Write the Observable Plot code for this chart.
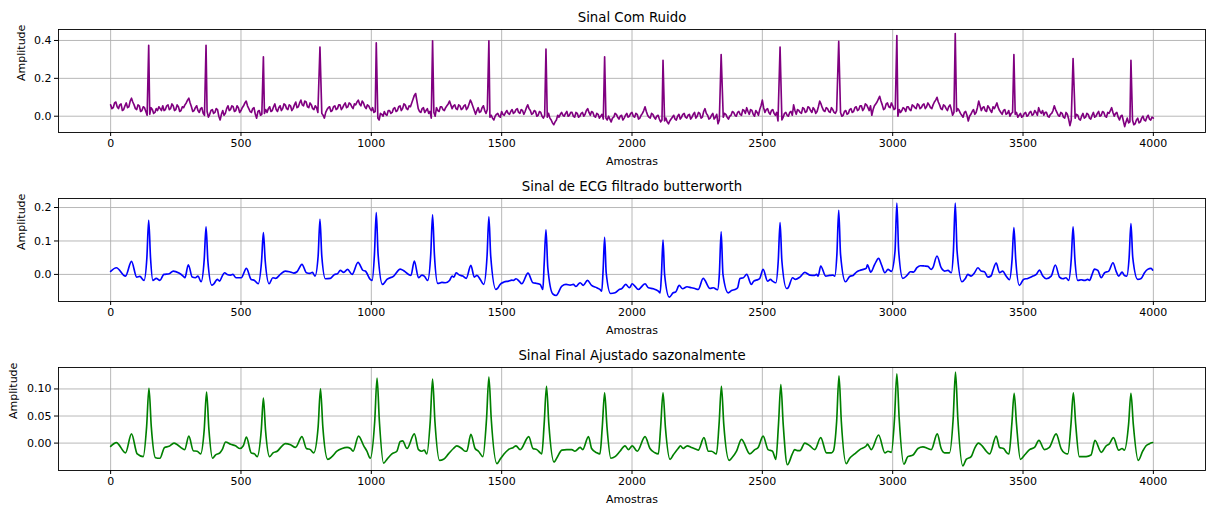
<!DOCTYPE html>
<html><head><meta charset="utf-8">
<script src="https://cdn.jsdelivr.net/npm/d3@7"></script>
<script src="https://cdn.jsdelivr.net/npm/@observablehq/plot@0.6"></script>
<style>
body{margin:0;background:#fff;}
#wrap{position:relative;width:1208px;height:507px;font-family:"DejaVu Sans",sans-serif;}
#wrap svg{position:absolute;left:0;}
</style></head><body><div id="wrap"></div>
<script>
// ---- Data (amplitudes in thousandths) ----
const noisyStep = 10; // samples between readings (even readings at 0,10,20..., odd readings at 5,15,25...)
const noisyEven = [
60,45,75,40,65,35,70,50,95,60,
35,55,30,45,5,10,35,20,30,40,
55,35,60,40,55,35,50,30,45,70,
95,50,30,55,20,45,5,25,10,35,
20,35,-20,30,15,55,35,50,30,45,
30,55,80,40,20,45,-10,30,10,15,
20,50,30,65,25,55,40,60,35,55,
40,75,50,85,55,75,45,60,35,45,
30,15,-10,35,50,30,55,40,60,45,
70,50,65,40,60,85,55,70,40,55,
30,20,0,-20,10,25,5,30,20,45,
30,55,40,60,35,50,90,120,40,20,
45,30,15,-10,20,45,25,50,30,55,
80,40,60,35,55,40,60,45,85,50,
10,45,25,55,15,20,5,-20,10,0,
25,5,30,10,35,20,40,15,30,25,
60,30,15,25,5,20,-10,0,15,-20,
-45,-20,-5,20,0,25,5,20,-5,15,
0,20,10,40,5,20,-5,10,0,-15,
-10,0,-30,-5,10,-15,5,-10,15,0,
20,-5,10,-10,15,50,5,-10,10,-15,
5,-30,0,-10,-40,-15,5,-20,10,-5,
15,-10,10,-5,20,0,15,-5,40,5,
-10,15,-5,-40,0,-5,10,-15,5,20,
0,25,5,30,45,10,30,0,20,35,
85,20,40,10,35,5,-25,0,-5,20,
0,25,60,10,30,15,40,25,45,20,
35,25,80,45,25,40,20,35,15,0,
20,5,30,15,40,25,50,35,55,40,
60,30,5,55,75,105,60,40,70,45,
55,40,0,20,45,25,50,30,55,40,
60,45,65,50,60,40,75,100,60,35,
55,30,60,5,0,40,15,-5,25,-25,
10,35,20,80,30,50,25,45,20,40,
70,30,10,35,15,0,20,10,-5,15,
0,20,5,25,10,20,45,15,5,20,
-5,15,55,20,0,15,-10,10,-50,0,
-10,5,-20,15,-5,10,-15,20,0,25,
5,20,-5,15,45,0,20,-20,5,-55,
-10,-30,-20,-40,-10,-30,0,-25,5,-20,
-10
];
const noisyOdd = [
40,70,50,60,30,55,45,80,75,40,
60,25,50,25,20,45,15,40,50,30,
30,55,35,65,30,60,25,50,60,85,
70,25,45,30,40,15,10,-5,30,15,
40,0,10,5,40,30,55,25,55,20,
45,70,55,25,40,10,25,5,5,35,
40,25,50,35,45,30,65,40,60,30,
60,45,70,60,80,50,70,40,55,20,
10,5,20,45,25,50,35,60,35,60,
45,70,50,65,75,65,80,50,60,40,
45,25,-10,15,0,10,30,15,40,25,
50,30,65,40,55,70,110,80,25,40,
20,40,25,5,0,30,50,35,45,65,
60,55,40,60,35,55,35,65,70,30,
30,20,45,30,35,-5,-10,0,15,-5,
10,20,15,25,15,35,20,35,10,45,
40,10,30,0,25,0,5,-5,-10,-35,
-30,5,10,5,15,0,20,0,20,-5,
15,0,30,20,25,0,15,-10,10,-5,
-20,-15,-10,15,-5,0,-20,5,-5,15,
0,15,-15,5,30,25,-5,15,-5,0,
-15,-20,-25,-30,-25,-5,-15,0,-15,10,
-5,5,-15,10,-10,20,-10,25,15,-15,
5,-15,10,-20,0,15,-5,0,25,5,
20,10,35,15,25,35,10,30,5,55,
45,35,20,30,15,20,-5,-20,15,5,
20,5,30,35,20,45,20,50,30,45,
15,50,65,30,45,25,45,20,30,0,
0,25,10,35,20,45,30,55,30,65,
45,55,35,65,90,80,35,65,50,70,
35,0,35,30,40,50,35,60,45,65,
40,60,40,70,45,60,85,75,40,60,
40,50,35,20,25,30,5,20,5,0,
25,10,45,55,45,30,55,30,50,55,
45,20,30,10,30,15,0,20,5,-5,
15,0,20,5,30,5,25,30,20,0,
10,30,35,5,20,-5,20,-15,-20,0,
10,-15,0,-10,15,-10,5,-5,15,0,
25,0,20,30,20,15,-5,0,-25,-30,
-35,0,-45,-20,-35,-10,-20,-5,-15,-5
];
const rawPeakX = [146,366,586,803,1019,1235,1451,1670,1895,2119,2342,2568,2793,3016,3240,3465,3692,3914];
const rawPeakY = [375,375,314,365,387,398,398,354,314,295,326,365,395,426,437,326,305,295];

const butterworth = [
[0,9],[22,20],[57,-5],[80,39],[100,-8],[112,-6],[128,-18],[139,50],[146,162],[153,50],[162,-18],[175,-12],[189,-18],[204,0],[225,2],[240,10],[262,4],[278,-5],[285,-10],[298,29],[313,-8],[325,-10],[335,-5],[347,-22],[359,45],[366,142],[373,40],[388,-32],[396,-28],[409,-15],[418,-20],[428,-5],[437,5],[447,0],[460,-2],[469,0],[481,-10],[501,-10],[521,18],[539,-15],[552,-18],[566,-28],[579,40],[586,125],[593,40],[608,-28],[622,-10],[633,-12],[651,0],[670,10],[686,8],[702,4],[715,8],[734,30],[751,5],[764,3],[774,6],[784,-5],[796,55],[803,165],[810,55],[824,-13],[843,-12],[859,0],[870,2],[881,12],[894,6],[909,15],[926,0],[949,36],[968,12],[977,10],[996,-15],[1003,-18],[1012,60],[1019,185],[1026,60],[1043,-30],[1060,-15],[1086,-5],[1111,16],[1126,10],[1143,0],[1152,-3],[1165,40],[1181,-10],[1194,-2],[1203,-5],[1216,-18],[1228,60],[1235,178],[1242,60],[1255,-27],[1271,-24],[1284,-25],[1300,-18],[1310,-5],[1317,-8],[1325,5],[1338,-2],[1351,-5],[1364,-12],[1382,27],[1395,-8],[1405,-3],[1418,-15],[1431,-30],[1444,55],[1451,172],[1458,55],[1478,-45],[1484,-42],[1494,-30],[1509,-23],[1526,-20],[1539,-17],[1545,-18],[1555,-13],[1567,-20],[1577,-28],[1601,4],[1620,-25],[1635,-27],[1648,-30],[1658,-45],[1663,30],[1670,133],[1677,20],[1696,-58],[1709,-63],[1731,-35],[1747,-30],[1763,-32],[1775,-30],[1785,-36],[1801,-25],[1813,-33],[1829,-18],[1845,-33],[1865,-40],[1877,-45],[1884,-50],[1889,10],[1895,111],[1901,5],[1918,-57],[1935,-55],[1951,-45],[1960,-43],[1976,-30],[1990,-40],[2001,-28],[2011,-35],[2024,-45],[2050,-28],[2063,-40],[2082,-43],[2101,-50],[2108,-55],[2113,0],[2119,103],[2125,0],[2143,-68],[2158,-55],[2168,-52],[2181,-33],[2194,-43],[2211,-37],[2228,-40],[2241,-42],[2254,-45],[2273,-12],[2299,-42],[2312,-40],[2328,-46],[2335,0],[2342,127],[2349,0],[2369,-55],[2382,-48],[2395,-45],[2405,-40],[2414,-12],[2427,-10],[2440,0],[2458,-30],[2467,-20],[2484,-15],[2490,-12],[2503,15],[2520,-20],[2531,-15],[2539,-20],[2552,-25],[2561,40],[2568,155],[2575,40],[2593,-42],[2599,-40],[2616,-10],[2627,-15],[2644,-8],[2663,6],[2682,-2],[2701,-3],[2708,0],[2714,-5],[2724,25],[2743,-5],[2758,-3],[2771,-2],[2778,-5],[2786,60],[2793,192],[2800,60],[2819,-22],[2835,-6],[2848,-3],[2861,7],[2874,12],[2887,15],[2899,19],[2903,29],[2916,7],[2931,30],[2946,48],[2957,29],[2970,5],[2982,15],[2995,9],[3009,70],[3016,213],[3023,70],[3039,-12],[3055,-3],[3068,8],[3080,7],[3093,20],[3106,26],[3122,25],[3135,24],[3148,15],[3154,20],[3170,55],[3186,20],[3199,10],[3212,12],[3225,5],[3233,70],[3240,213],[3247,70],[3266,-22],[3279,-12],[3288,0],[3301,-5],[3314,5],[3327,20],[3339,10],[3352,8],[3365,-8],[3378,-4],[3384,10],[3397,34],[3410,5],[3422,10],[3435,-5],[3448,-16],[3458,45],[3465,140],[3472,45],[3486,-33],[3502,-15],[3518,-12],[3538,-5],[3551,0],[3563,13],[3576,-5],[3589,-13],[3608,-5],[3624,28],[3640,-8],[3653,-13],[3665,-10],[3675,-18],[3685,45],[3692,142],[3699,45],[3710,-18],[3723,-16],[3736,-18],[3748,-15],[3755,-18],[3765,0],[3774,16],[3787,12],[3800,-10],[3813,5],[3829,10],[3845,35],[3857,10],[3867,-5],[3880,7],[3889,-3],[3898,-5],[3907,50],[3914,152],[3921,50],[3940,-15],[3953,-12],[3966,5],[3978,15],[3991,18],[3997,13]
];

const adjusted = [
[0,-6],[22,1],[57,-18],[80,17],[102,-20],[125,-25],[138,30],[147,101],[156,30],[172,-27],[189,-28],[207,-8],[224,-6],[243,0],[256,-3],[275,-10],[284,-12],[300,13],[317,-14],[332,-15],[345,-20],[359,25],[368,94],[377,25],[391,-28],[402,-22],[419,-18],[428,-12],[441,2],[460,-2],[479,-5],[496,-10],[509,-5],[521,11],[539,-18],[552,-20],[562,-25],[578,25],[586,83],[594,25],[610,-25],[623,-18],[639,-15],[658,-5],[670,-1],[690,-3],[709,-8],[734,12],[751,-10],[766,-12],[779,-18],[796,30],[805,100],[814,30],[833,-30],[849,-25],[868,-15],[888,-10],[907,-8],[920,-10],[930,-15],[951,13],[971,-5],[983,-15],[996,-28],[1013,40],[1022,120],[1031,40],[1047,-37],[1060,-30],[1079,-20],[1098,-15],[1111,3],[1120,4],[1137,-10],[1165,17],[1181,-12],[1194,-15],[1203,-13],[1213,-20],[1226,40],[1235,118],[1244,40],[1262,-32],[1277,-30],[1296,-20],[1315,-10],[1328,-5],[1347,-10],[1360,-15],[1366,-15],[1382,16],[1398,-10],[1411,-15],[1428,-25],[1442,45],[1451,122],[1460,45],[1482,-38],[1494,-30],[1509,-20],[1526,-12],[1545,-8],[1555,-5],[1571,-12],[1604,12],[1620,-10],[1635,-12],[1648,-18],[1654,-20],[1663,35],[1672,105],[1681,35],[1701,-35],[1711,-28],[1731,-13],[1750,-12],[1769,-12],[1781,-15],[1801,-8],[1811,-12],[1833,12],[1845,-10],[1865,-18],[1877,-20],[1886,30],[1895,93],[1904,30],[1919,-28],[1935,-25],[1954,-15],[1973,-5],[1986,-12],[2001,-5],[2020,-15],[2050,12],[2069,-10],[2088,-18],[2101,-20],[2110,30],[2119,93],[2128,30],[2146,-30],[2158,-22],[2177,-10],[2186,-5],[2196,-10],[2212,-5],[2228,-8],[2248,-12],[2254,-13],[2276,10],[2293,-15],[2305,-15],[2324,-20],[2334,35],[2343,105],[2352,35],[2373,-32],[2382,-28],[2401,-15],[2420,7],[2452,-20],[2471,-12],[2484,-8],[2503,13],[2522,-12],[2539,-15],[2552,-30],[2562,35],[2571,108],[2580,35],[2596,-40],[2615,-20],[2624,-12],[2637,-14],[2644,-14],[2663,0],[2682,-5],[2701,-12],[2724,10],[2746,-18],[2765,-18],[2772,-15],[2785,40],[2794,124],[2803,40],[2822,-38],[2835,-28],[2854,-20],[2874,-12],[2899,-5],[2903,-2],[2918,-12],[2946,15],[2970,-18],[2982,-15],[2995,-17],[3007,45],[3016,128],[3025,45],[3043,-39],[3058,-25],[3078,-22],[3097,-10],[3116,-7],[3135,-10],[3148,-12],[3171,17],[3186,-10],[3199,-18],[3218,-18],[3232,45],[3241,131],[3250,45],[3269,-42],[3282,-30],[3301,-25],[3314,-10],[3329,0],[3343,-5],[3359,-15],[3372,-20],[3397,13],[3410,-8],[3425,-10],[3438,-18],[3446,-20],[3457,35],[3466,92],[3475,35],[3490,-30],[3506,-22],[3525,-12],[3544,-8],[3561,5],[3582,-12],[3601,-8],[3627,17],[3646,-10],[3659,-18],[3672,-20],[3684,35],[3693,93],[3702,35],[3716,-25],[3742,-25],[3761,-22],[3776,5],[3800,-17],[3819,-5],[3830,-2],[3847,10],[3867,-13],[3880,-10],[3889,-13],[3905,35],[3914,92],[3923,35],[3942,-32],[3959,-15],[3972,-5],[3985,-1],[3997,1]
];

const xTicks = [0,500,1000,1500,2000,2500,3000,3500,4000];
const yTicks1 = [0,0.2,0.4];
const yTicks2 = [0,0.1,0.2];
const yTicks3 = [0,0.05,0.10];
const titles = ["Sinal Com Ruido","Sinal de ECG filtrado butterworth","Sinal Final Ajustado sazonalmente"];
const xLabel = "Amostras";
const yLabel = "Amplitude";
const colors = ["#800080","#0000ff","#008000"];

// ---- Build tables ----
const nearPeak = x => rawPeakX.some(px => Math.abs(px - x) <= 3);
const noisy = noisyEven.map((v,i)=>({x:i*noisyStep, y:v/1000}))
  .concat(noisyOdd.map((v,i)=>({x:i*noisyStep + noisyStep/2, y:v/1000})))
  .filter(p => !nearPeak(p.x))
  .concat(rawPeakX.map((x,i)=>({x, y:rawPeakY[i]/1000})))
  .sort((a,b)=>a.x-b.x);
const toRows = arr => arr.map(([x,v])=>({x, y:v/1000}));

function panel({data, color, curve, yDomain, yTicks, yFmt, title, ylabelDx}) {
  return Plot.plot({
    width:1208, height:169, marginTop:29, marginBottom:37, marginLeft:58, marginRight:3,
    style:{fontFamily:"'DejaVu Sans', sans-serif", fontSize:"11px", color:"#000", background:"transparent", overflow:"visible"},
    x:{domain:[-200,4200]},
    y:{domain:yDomain},
    marks:[
      Plot.gridX(xTicks,{stroke:"#b0b0b0", strokeOpacity:1, strokeWidth:0.9}),
      Plot.gridY(yTicks,{stroke:"#b0b0b0", strokeOpacity:1, strokeWidth:0.9}),
      Plot.line(data,{x:"x", y:"y", stroke:color, strokeWidth:1.65, curve}),
      Plot.frame({stroke:"#000", strokeWidth:0.9}),
      Plot.axisX(xTicks,{tickSize:4, tickPadding:3, label:null, fontSize:11, tickFormat:d3.format("d")}),
      Plot.axisY(yTicks,{tickSize:4, tickPadding:3, label:null, fontSize:11, tickFormat:yFmt}),
      Plot.text([title],{text:d=>d, frameAnchor:"top", dy:-12, fontSize:13.3, lineAnchor:"middle"}),
      Plot.text([xLabel],{text:d=>d, frameAnchor:"bottom", dy:29, fontSize:11, lineAnchor:"middle"}),
      Plot.text([yLabel],{text:d=>d, frameAnchor:"left", dx:ylabelDx, rotate:-90, fontSize:11, lineAnchor:"middle"})
    ]
  });
}

const wrap = document.getElementById("wrap");
const charts = [
  panel({data:noisy, color:colors[0], curve:"linear", yDomain:[-0.086,0.458], yTicks:yTicks1, yFmt:d3.format(".1f"), title:titles[0], ylabelDx:-37.3}),
  panel({data:toRows(butterworth), color:colors[1], curve:"monotone-x", yDomain:[-0.081,0.227], yTicks:yTicks2, yFmt:d3.format(".1f"), title:titles[1], ylabelDx:-37.3}),
  panel({data:toRows(adjusted), color:colors[2], curve:"monotone-x", yDomain:[-0.0506,0.1396], yTicks:yTicks3, yFmt:d3.format(".2f"), title:titles[2], ylabelDx:-44.7})
];
charts.forEach((c,i)=>{ c.style.top = (i*169)+"px"; wrap.appendChild(c); });
</script></body></html>
